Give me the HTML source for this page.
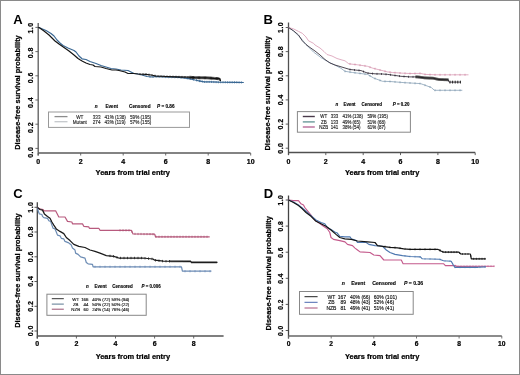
<!DOCTYPE html>
<html><head><meta charset="utf-8"><title>Figure</title>
<style>html,body{margin:0;padding:0;background:#fff;width:520px;height:375px;overflow:hidden}svg{display:block;will-change:transform;filter:blur(0.3px)}.ax{stroke:#000;stroke-width:0.22px}.lg{stroke:#111;stroke-width:0.14px}.hd{stroke:#000;stroke-width:0.12px}</style>
</head><body>
<svg width="520" height="375" viewBox="0 0 520 375" font-family='"Liberation Sans", sans-serif'>
<rect x="0.5" y="0.5" width="519" height="374" fill="#fff" stroke="#8a8a8a" stroke-width="1"/>
<line x1="38.2" y1="23" x2="38.2" y2="155.5" stroke="#5a5a5a" stroke-width="1.3"/>
<line x1="35.4" y1="148.4" x2="38.2" y2="148.4" stroke="#5a5a5a" stroke-width="0.9"/>
<text transform="translate(33,152.2) rotate(-90)" font-size="7" font-weight="bold" text-anchor="middle" fill="#000" class="ax" letter-spacing="0.45">0.0</text>
<line x1="35.4" y1="124.2" x2="38.2" y2="124.2" stroke="#5a5a5a" stroke-width="0.9"/>
<text transform="translate(33,127.4) rotate(-90)" font-size="7" font-weight="bold" text-anchor="middle" fill="#000" class="ax" letter-spacing="0.45">0.2</text>
<line x1="35.4" y1="100.0" x2="38.2" y2="100.0" stroke="#5a5a5a" stroke-width="0.9"/>
<text transform="translate(33,102.5) rotate(-90)" font-size="7" font-weight="bold" text-anchor="middle" fill="#000" class="ax" letter-spacing="0.45">0.4</text>
<line x1="35.4" y1="75.8" x2="38.2" y2="75.8" stroke="#5a5a5a" stroke-width="0.9"/>
<text transform="translate(33,77.7) rotate(-90)" font-size="7" font-weight="bold" text-anchor="middle" fill="#000" class="ax" letter-spacing="0.45">0.6</text>
<line x1="35.4" y1="51.6" x2="38.2" y2="51.6" stroke="#5a5a5a" stroke-width="0.9"/>
<text transform="translate(33,52.8) rotate(-90)" font-size="7" font-weight="bold" text-anchor="middle" fill="#000" class="ax" letter-spacing="0.45">0.8</text>
<line x1="35.4" y1="27.4" x2="38.2" y2="27.4" stroke="#5a5a5a" stroke-width="0.9"/>
<text transform="translate(33,28.0) rotate(-90)" font-size="7" font-weight="bold" text-anchor="middle" fill="#000" class="ax" letter-spacing="0.45">1.0</text>
<line x1="38.2" y1="153" x2="250.5" y2="153" stroke="#5a5a5a" stroke-width="1.5"/>
<line x1="38.2" y1="153" x2="38.2" y2="155.5" stroke="#5a5a5a" stroke-width="0.9"/>
<text x="38.2" y="163.5" font-size="7" font-weight="bold" text-anchor="middle" fill="#000"  class="ax">0</text>
<line x1="80.7" y1="153" x2="80.7" y2="155.5" stroke="#5a5a5a" stroke-width="0.9"/>
<text x="80.7" y="163.5" font-size="7" font-weight="bold" text-anchor="middle" fill="#000"  class="ax">2</text>
<line x1="123.2" y1="153" x2="123.2" y2="155.5" stroke="#5a5a5a" stroke-width="0.9"/>
<text x="123.2" y="163.5" font-size="7" font-weight="bold" text-anchor="middle" fill="#000"  class="ax">4</text>
<line x1="165.7" y1="153" x2="165.7" y2="155.5" stroke="#5a5a5a" stroke-width="0.9"/>
<text x="165.7" y="163.5" font-size="7" font-weight="bold" text-anchor="middle" fill="#000"  class="ax">6</text>
<line x1="208.2" y1="153" x2="208.2" y2="155.5" stroke="#5a5a5a" stroke-width="0.9"/>
<text x="208.2" y="163.5" font-size="7" font-weight="bold" text-anchor="middle" fill="#000"  class="ax">8</text>
<line x1="250.7" y1="153" x2="250.7" y2="155.5" stroke="#5a5a5a" stroke-width="0.9"/>
<text x="250.7" y="163.5" font-size="7" font-weight="bold" text-anchor="middle" fill="#000"  class="ax">10</text>
<text x="132.8" y="174.8" font-size="7.45" font-weight="bold" text-anchor="middle" fill="#000"  class="ax">Years from trial entry</text>
<text transform="translate(20.4,92.5) rotate(-90)" font-size="7.45" font-weight="bold" text-anchor="middle" fill="#000" class="ax">Disease-free survival probability</text>
<text x="13.3" y="24.3" font-size="13" font-weight="bold" text-anchor="start" fill="#000"  >A</text>
<line x1="288.5" y1="22.5" x2="288.5" y2="155.1" stroke="#505050" stroke-width="1.3"/>
<line x1="285.7" y1="148.2" x2="288.5" y2="148.2" stroke="#505050" stroke-width="0.9"/>
<text transform="translate(282.8,148.1) rotate(-90)" font-size="7" font-weight="bold" text-anchor="middle" fill="#000" class="ax" letter-spacing="0.45">0.0</text>
<line x1="285.7" y1="124.1" x2="288.5" y2="124.1" stroke="#505050" stroke-width="0.9"/>
<text transform="translate(282.8,124.0) rotate(-90)" font-size="7" font-weight="bold" text-anchor="middle" fill="#000" class="ax" letter-spacing="0.45">0.2</text>
<line x1="285.7" y1="99.9" x2="288.5" y2="99.9" stroke="#505050" stroke-width="0.9"/>
<text transform="translate(282.8,99.8) rotate(-90)" font-size="7" font-weight="bold" text-anchor="middle" fill="#000" class="ax" letter-spacing="0.45">0.4</text>
<line x1="285.7" y1="75.8" x2="288.5" y2="75.8" stroke="#505050" stroke-width="0.9"/>
<text transform="translate(282.8,75.7) rotate(-90)" font-size="7" font-weight="bold" text-anchor="middle" fill="#000" class="ax" letter-spacing="0.45">0.6</text>
<line x1="285.7" y1="51.6" x2="288.5" y2="51.6" stroke="#505050" stroke-width="0.9"/>
<text transform="translate(282.8,51.5) rotate(-90)" font-size="7" font-weight="bold" text-anchor="middle" fill="#000" class="ax" letter-spacing="0.45">0.8</text>
<line x1="285.7" y1="27.5" x2="288.5" y2="27.5" stroke="#505050" stroke-width="0.9"/>
<text transform="translate(282.8,27.4) rotate(-90)" font-size="7" font-weight="bold" text-anchor="middle" fill="#000" class="ax" letter-spacing="0.45">1.0</text>
<line x1="288.5" y1="152.6" x2="475.2" y2="152.6" stroke="#505050" stroke-width="1.5"/>
<line x1="288.5" y1="152.6" x2="288.5" y2="155.1" stroke="#505050" stroke-width="0.9"/>
<text x="288.5" y="163.7" font-size="7" font-weight="bold" text-anchor="middle" fill="#000"  class="ax">0</text>
<line x1="325.8" y1="152.6" x2="325.8" y2="155.1" stroke="#505050" stroke-width="0.9"/>
<text x="325.8" y="163.7" font-size="7" font-weight="bold" text-anchor="middle" fill="#000"  class="ax">2</text>
<line x1="363.2" y1="152.6" x2="363.2" y2="155.1" stroke="#505050" stroke-width="0.9"/>
<text x="363.2" y="163.7" font-size="7" font-weight="bold" text-anchor="middle" fill="#000"  class="ax">4</text>
<line x1="400.5" y1="152.6" x2="400.5" y2="155.1" stroke="#505050" stroke-width="0.9"/>
<text x="400.5" y="163.7" font-size="7" font-weight="bold" text-anchor="middle" fill="#000"  class="ax">6</text>
<line x1="437.9" y1="152.6" x2="437.9" y2="155.1" stroke="#505050" stroke-width="0.9"/>
<text x="437.9" y="163.7" font-size="7" font-weight="bold" text-anchor="middle" fill="#000"  class="ax">8</text>
<line x1="475.2" y1="152.6" x2="475.2" y2="155.1" stroke="#505050" stroke-width="0.9"/>
<text x="475.2" y="163.7" font-size="7" font-weight="bold" text-anchor="middle" fill="#000"  class="ax">10</text>
<text x="382.2" y="175" font-size="7.45" font-weight="bold" text-anchor="middle" fill="#000"  class="ax">Years from trial entry</text>
<text transform="translate(270.3,93.3) rotate(-90)" font-size="7.45" font-weight="bold" text-anchor="middle" fill="#000" class="ax">Disease-free survival probability</text>
<text x="263.6" y="24.2" font-size="13" font-weight="bold" text-anchor="start" fill="#000"  >B</text>
<line x1="37.3" y1="202.2" x2="37.3" y2="338.5" stroke="#444" stroke-width="1.3"/>
<line x1="34.5" y1="331.0" x2="37.3" y2="331.0" stroke="#444" stroke-width="0.9"/>
<text transform="translate(32.6,330.8) rotate(-90)" font-size="7" font-weight="bold" text-anchor="middle" fill="#000" class="ax" letter-spacing="0.45">0.0</text>
<line x1="34.5" y1="306.3" x2="37.3" y2="306.3" stroke="#444" stroke-width="0.9"/>
<text transform="translate(32.6,306.1) rotate(-90)" font-size="7" font-weight="bold" text-anchor="middle" fill="#000" class="ax" letter-spacing="0.45">0.2</text>
<line x1="34.5" y1="281.5" x2="37.3" y2="281.5" stroke="#444" stroke-width="0.9"/>
<text transform="translate(32.6,281.3) rotate(-90)" font-size="7" font-weight="bold" text-anchor="middle" fill="#000" class="ax" letter-spacing="0.45">0.4</text>
<line x1="34.5" y1="256.8" x2="37.3" y2="256.8" stroke="#444" stroke-width="0.9"/>
<text transform="translate(32.6,256.6) rotate(-90)" font-size="7" font-weight="bold" text-anchor="middle" fill="#000" class="ax" letter-spacing="0.45">0.6</text>
<line x1="34.5" y1="232.0" x2="37.3" y2="232.0" stroke="#444" stroke-width="0.9"/>
<text transform="translate(32.6,231.8) rotate(-90)" font-size="7" font-weight="bold" text-anchor="middle" fill="#000" class="ax" letter-spacing="0.45">0.8</text>
<line x1="34.5" y1="207.3" x2="37.3" y2="207.3" stroke="#444" stroke-width="0.9"/>
<text transform="translate(32.6,207.1) rotate(-90)" font-size="7" font-weight="bold" text-anchor="middle" fill="#000" class="ax" letter-spacing="0.45">1.0</text>
<line x1="37.3" y1="336" x2="223.6" y2="336" stroke="#555" stroke-width="1.5"/>
<line x1="37.3" y1="336" x2="37.3" y2="338.5" stroke="#555" stroke-width="0.9"/>
<text x="37.3" y="346.1" font-size="7" font-weight="bold" text-anchor="middle" fill="#000"  class="ax">0</text>
<line x1="76.4" y1="336" x2="76.4" y2="338.5" stroke="#555" stroke-width="0.9"/>
<text x="76.4" y="346.1" font-size="7" font-weight="bold" text-anchor="middle" fill="#000"  class="ax">2</text>
<line x1="115.5" y1="336" x2="115.5" y2="338.5" stroke="#555" stroke-width="0.9"/>
<text x="115.5" y="346.1" font-size="7" font-weight="bold" text-anchor="middle" fill="#000"  class="ax">4</text>
<line x1="154.6" y1="336" x2="154.6" y2="338.5" stroke="#555" stroke-width="0.9"/>
<text x="154.6" y="346.1" font-size="7" font-weight="bold" text-anchor="middle" fill="#000"  class="ax">6</text>
<line x1="193.7" y1="336" x2="193.7" y2="338.5" stroke="#555" stroke-width="0.9"/>
<text x="193.7" y="346.1" font-size="7" font-weight="bold" text-anchor="middle" fill="#000"  class="ax">8</text>
<text x="132.9" y="359.4" font-size="7.45" font-weight="bold" text-anchor="middle" fill="#000"  class="ax">Years from trial entry</text>
<text transform="translate(20.4,270.6) rotate(-90)" font-size="7.45" font-weight="bold" text-anchor="middle" fill="#000" class="ax">Disease-free survival probability</text>
<text x="13.3" y="198.1" font-size="13" font-weight="bold" text-anchor="start" fill="#000"  >C</text>
<line x1="288.5" y1="195.5" x2="288.5" y2="338.5" stroke="#444" stroke-width="1.3"/>
<line x1="285.7" y1="330.5" x2="288.5" y2="330.5" stroke="#444" stroke-width="0.9"/>
<text transform="translate(282.7,330.6) rotate(-90)" font-size="6.7" font-weight="bold" text-anchor="middle" fill="#000" class="ax" letter-spacing="0.45">0.0</text>
<line x1="285.7" y1="304.4" x2="288.5" y2="304.4" stroke="#444" stroke-width="0.9"/>
<text transform="translate(282.7,304.5) rotate(-90)" font-size="6.7" font-weight="bold" text-anchor="middle" fill="#000" class="ax" letter-spacing="0.45">0.2</text>
<line x1="285.7" y1="278.3" x2="288.5" y2="278.3" stroke="#444" stroke-width="0.9"/>
<text transform="translate(282.7,278.4) rotate(-90)" font-size="6.7" font-weight="bold" text-anchor="middle" fill="#000" class="ax" letter-spacing="0.45">0.4</text>
<line x1="285.7" y1="252.2" x2="288.5" y2="252.2" stroke="#444" stroke-width="0.9"/>
<text transform="translate(282.7,252.3) rotate(-90)" font-size="6.7" font-weight="bold" text-anchor="middle" fill="#000" class="ax" letter-spacing="0.45">0.6</text>
<line x1="285.7" y1="226.1" x2="288.5" y2="226.1" stroke="#444" stroke-width="0.9"/>
<text transform="translate(282.7,226.2) rotate(-90)" font-size="6.7" font-weight="bold" text-anchor="middle" fill="#000" class="ax" letter-spacing="0.45">0.8</text>
<line x1="285.7" y1="200.0" x2="288.5" y2="200.0" stroke="#444" stroke-width="0.9"/>
<text transform="translate(282.7,200.1) rotate(-90)" font-size="6.7" font-weight="bold" text-anchor="middle" fill="#000" class="ax" letter-spacing="0.45">1.0</text>
<line x1="288.5" y1="336" x2="501.8" y2="336" stroke="#666" stroke-width="1.5"/>
<line x1="288.5" y1="336" x2="288.5" y2="338.5" stroke="#666" stroke-width="0.9"/>
<text x="288.5" y="346.2" font-size="6.7" font-weight="bold" text-anchor="middle" fill="#000"  class="ax">0</text>
<line x1="331.2" y1="336" x2="331.2" y2="338.5" stroke="#666" stroke-width="0.9"/>
<text x="331.2" y="346.2" font-size="6.7" font-weight="bold" text-anchor="middle" fill="#000"  class="ax">2</text>
<line x1="373.8" y1="336" x2="373.8" y2="338.5" stroke="#666" stroke-width="0.9"/>
<text x="373.8" y="346.2" font-size="6.7" font-weight="bold" text-anchor="middle" fill="#000"  class="ax">4</text>
<line x1="416.5" y1="336" x2="416.5" y2="338.5" stroke="#666" stroke-width="0.9"/>
<text x="416.5" y="346.2" font-size="6.7" font-weight="bold" text-anchor="middle" fill="#000"  class="ax">6</text>
<line x1="459.1" y1="336" x2="459.1" y2="338.5" stroke="#666" stroke-width="0.9"/>
<text x="459.1" y="346.2" font-size="6.7" font-weight="bold" text-anchor="middle" fill="#000"  class="ax">8</text>
<line x1="501.8" y1="336" x2="501.8" y2="338.5" stroke="#666" stroke-width="0.9"/>
<text x="501.8" y="346.2" font-size="6.7" font-weight="bold" text-anchor="middle" fill="#000"  class="ax">10</text>
<text x="382.2" y="359.4" font-size="7.45" font-weight="bold" text-anchor="middle" fill="#000"  class="ax">Years from trial entry</text>
<text transform="translate(270.5,273.3) rotate(-90)" font-size="7.45" font-weight="bold" text-anchor="middle" fill="#000" class="ax">Disease-free survival probability</text>
<text x="263.7" y="197.8" font-size="13" font-weight="bold" text-anchor="start" fill="#000"  >D</text>
<text class="hd" x="94.8" y="107.6" font-size="4.65" font-weight="bold" font-style="italic">n</text>
<text x="105.4" y="107.6" font-size="4.65" font-weight="bold" text-anchor="start" fill="#000"  class="hd">Event</text>
<text x="129.1" y="107.6" font-size="4.65" font-weight="bold" text-anchor="start" fill="#000"  class="hd">Censored</text>
<text class="hd" x="157.1" y="107.6" font-size="4.65" font-weight="bold"><tspan font-style="italic">P</tspan> = 0.86</text>
<rect x="48.5" y="112" width="141.0" height="15.4" fill="none" stroke="#999" stroke-width="1"/>
<line x1="54.5" y1="116.6" x2="67.5" y2="116.6" stroke="#8c8c8c" stroke-width="1.3"/>
<text x="79.8" y="118.6" font-size="4.65" font-weight="normal" text-anchor="middle" fill="#444"  class="lg">WT</text>
<text x="100.5" y="118.6" font-size="4.65" font-weight="normal" text-anchor="end" fill="#444"  class="lg">333</text>
<text x="104.5" y="118.6" font-size="4.65" font-weight="normal" text-anchor="start" fill="#444"  class="lg">41% (138)</text>
<text x="130" y="118.6" font-size="4.65" font-weight="normal" text-anchor="start" fill="#444"  class="lg">59% (195)</text>
<line x1="54.5" y1="121.7" x2="67.5" y2="121.7" stroke="#c4c8cc" stroke-width="1.3"/>
<text x="79.8" y="123.7" font-size="4.65" font-weight="normal" text-anchor="middle" fill="#444"  class="lg">Mutant</text>
<text x="100.5" y="123.7" font-size="4.65" font-weight="normal" text-anchor="end" fill="#444"  class="lg">274</text>
<text x="104.5" y="123.7" font-size="4.65" font-weight="normal" text-anchor="start" fill="#444"  class="lg">43% (119)</text>
<text x="130" y="123.7" font-size="4.65" font-weight="normal" text-anchor="start" fill="#444"  class="lg">57% (155)</text>
<text class="hd" x="335.5" y="105.8" font-size="4.45" font-weight="bold" font-style="italic">n</text>
<text x="343.5" y="105.8" font-size="4.45" font-weight="bold" text-anchor="start" fill="#000"  class="hd">Event</text>
<text x="361.5" y="105.8" font-size="4.45" font-weight="bold" text-anchor="start" fill="#000"  class="hd">Censored</text>
<text class="hd" x="392.7" y="105.8" font-size="4.45" font-weight="bold"><tspan font-style="italic">P</tspan> = 0.20</text>
<rect x="297.4" y="111.6" width="113.0" height="20.6" fill="none" stroke="#888" stroke-width="1"/>
<line x1="302.8" y1="116.5" x2="314.8" y2="116.5" stroke="#4a3a4a" stroke-width="1.4"/>
<text x="323.8" y="118.3" font-size="4.45" font-weight="normal" text-anchor="middle" fill="#333"  class="lg">WT</text>
<text x="338.2" y="118.3" font-size="4.45" font-weight="normal" text-anchor="end" fill="#333"  class="lg">333</text>
<text x="342.5" y="118.3" font-size="4.45" font-weight="normal" text-anchor="start" fill="#333"  class="lg">41% (138)</text>
<text x="367.4" y="118.3" font-size="4.45" font-weight="normal" text-anchor="start" fill="#333"  class="lg">59% (195)</text>
<line x1="302.8" y1="121.9" x2="314.8" y2="121.9" stroke="#6a9a9a" stroke-width="1.4"/>
<text x="323.8" y="123.7" font-size="4.45" font-weight="normal" text-anchor="middle" fill="#333"  class="lg">ZB</text>
<text x="338.2" y="123.7" font-size="4.45" font-weight="normal" text-anchor="end" fill="#333"  class="lg">133</text>
<text x="342.5" y="123.7" font-size="4.45" font-weight="normal" text-anchor="start" fill="#333"  class="lg">49% (65)</text>
<text x="367.4" y="123.7" font-size="4.45" font-weight="normal" text-anchor="start" fill="#333"  class="lg">51% (68)</text>
<line x1="302.8" y1="127.0" x2="314.8" y2="127.0" stroke="#b86a98" stroke-width="1.4"/>
<text x="323.8" y="128.8" font-size="4.45" font-weight="normal" text-anchor="middle" fill="#333"  class="lg">NZB</text>
<text x="338.2" y="128.8" font-size="4.45" font-weight="normal" text-anchor="end" fill="#333"  class="lg">141</text>
<text x="342.5" y="128.8" font-size="4.45" font-weight="normal" text-anchor="start" fill="#333"  class="lg">38% (54)</text>
<text x="367.4" y="128.8" font-size="4.45" font-weight="normal" text-anchor="start" fill="#333"  class="lg">61% (87)</text>
<text class="hd" x="86.0" y="288.0" font-size="4.45" font-weight="bold" font-style="italic">n</text>
<text x="94.6" y="288.0" font-size="4.45" font-weight="bold" text-anchor="start" fill="#000"  class="hd">Event</text>
<text x="112.3" y="288.0" font-size="4.45" font-weight="bold" text-anchor="start" fill="#000"  class="hd">Censored</text>
<text class="hd" x="141.5" y="288.0" font-size="4.45" font-weight="bold"><tspan font-style="italic">P</tspan> = 0.006</text>
<rect x="46.9" y="294.2" width="99.3" height="21.1" fill="none" stroke="#888" stroke-width="1"/>
<line x1="51.8" y1="298.7" x2="63.8" y2="298.7" stroke="#333" stroke-width="1.0"/>
<text x="75.7" y="300.5" font-size="4.4" font-weight="normal" text-anchor="middle" fill="#111"  class="lg">WT</text>
<text x="88.5" y="300.5" font-size="4.4" font-weight="normal" text-anchor="end" fill="#111"  class="lg">166</text>
<text x="92.3" y="300.5" font-size="4.4" font-weight="normal" text-anchor="start" fill="#111"  class="lg">40% (72)</text>
<text x="111.5" y="300.5" font-size="4.4" font-weight="normal" text-anchor="start" fill="#111"  class="lg">58% (94)</text>
<line x1="51.8" y1="304.1" x2="63.8" y2="304.1" stroke="#5a7890" stroke-width="1.0"/>
<text x="75.7" y="305.9" font-size="4.4" font-weight="normal" text-anchor="middle" fill="#111"  class="lg">ZB</text>
<text x="88.5" y="305.9" font-size="4.4" font-weight="normal" text-anchor="end" fill="#111"  class="lg">44</text>
<text x="92.3" y="305.9" font-size="4.4" font-weight="normal" text-anchor="start" fill="#111"  class="lg">50% (22)</text>
<text x="111.5" y="305.9" font-size="4.4" font-weight="normal" text-anchor="start" fill="#111"  class="lg">50% (22)</text>
<line x1="51.8" y1="309.2" x2="63.8" y2="309.2" stroke="#985070" stroke-width="1.0"/>
<text x="75.7" y="311.0" font-size="4.4" font-weight="normal" text-anchor="middle" fill="#111"  class="lg">NZB</text>
<text x="88.5" y="311.0" font-size="4.4" font-weight="normal" text-anchor="end" fill="#111"  class="lg">60</text>
<text x="92.3" y="311.0" font-size="4.4" font-weight="normal" text-anchor="start" fill="#111"  class="lg">24% (14)</text>
<text x="111.5" y="311.0" font-size="4.4" font-weight="normal" text-anchor="start" fill="#111"  class="lg">76% (46)</text>
<text class="hd" x="341.8" y="285.4" font-size="5.15" font-weight="bold" font-style="italic">n</text>
<text x="351.2" y="285.4" font-size="5.15" font-weight="bold" text-anchor="start" fill="#000"  class="hd">Event</text>
<text x="372.2" y="285.4" font-size="5.15" font-weight="bold" text-anchor="start" fill="#000"  class="hd">Censored</text>
<text class="hd" x="403.9" y="285.4" font-size="5.15" font-weight="bold"><tspan font-style="italic">P</tspan> = 0.36</text>
<rect x="299.5" y="291.5" width="113.7" height="22.8" fill="none" stroke="#888" stroke-width="1"/>
<line x1="304.5" y1="296.7" x2="317.6" y2="296.7" stroke="#222" stroke-width="1.0"/>
<text x="331.4" y="298.7" font-size="5.0" font-weight="normal" text-anchor="middle" fill="#111"  class="lg">WT</text>
<text x="346" y="298.7" font-size="5.0" font-weight="normal" text-anchor="end" fill="#111"  class="lg">167</text>
<text x="350" y="298.7" font-size="5.0" font-weight="normal" text-anchor="start" fill="#111"  class="lg">40% (66)</text>
<text x="373.8" y="298.7" font-size="5.0" font-weight="normal" text-anchor="start" fill="#111"  class="lg">60% (101)</text>
<line x1="304.5" y1="302.3" x2="317.6" y2="302.3" stroke="#4a68b0" stroke-width="1.0"/>
<text x="331.4" y="304.3" font-size="5.0" font-weight="normal" text-anchor="middle" fill="#111"  class="lg">ZB</text>
<text x="346" y="304.3" font-size="5.0" font-weight="normal" text-anchor="end" fill="#111"  class="lg">89</text>
<text x="350" y="304.3" font-size="5.0" font-weight="normal" text-anchor="start" fill="#111"  class="lg">48% (43)</text>
<text x="373.8" y="304.3" font-size="5.0" font-weight="normal" text-anchor="start" fill="#111"  class="lg">52% (46)</text>
<line x1="304.5" y1="308.0" x2="317.6" y2="308.0" stroke="#a85078" stroke-width="1.0"/>
<text x="331.4" y="310.0" font-size="5.0" font-weight="normal" text-anchor="middle" fill="#111"  class="lg">NZB</text>
<text x="346" y="310.0" font-size="5.0" font-weight="normal" text-anchor="end" fill="#111"  class="lg">81</text>
<text x="350" y="310.0" font-size="5.0" font-weight="normal" text-anchor="start" fill="#111"  class="lg">49% (41)</text>
<text x="373.8" y="310.0" font-size="5.0" font-weight="normal" text-anchor="start" fill="#111"  class="lg">51% (41)</text>
<polyline points="38.2,27.5 39.0,27.5 46.0,30.5 51.0,33.5 54.0,36.0 57.0,40.0 60.0,43.0 63.0,45.5 68.0,48.0 74.0,50.5 76.0,52.0 79.0,56.0 82.0,58.8 86.0,59.5 90.0,61.5 96.0,63.5 101.0,65.5 106.0,67.0 111.0,68.5 116.0,69.0 121.0,70.0 128.0,70.5 131.0,72.0 134.0,73.5 138.0,74.0 142.0,75.0 147.0,76.5 152.0,77.0 156.0,76.5 166.0,77.0 176.0,77.2 184.0,77.8 190.0,78.8 195.0,80.0 198.8,80.8 204.2,81.9 210.4,81.9 218.0,82.2 235.0,82.3 243.8,82.5" fill="none" stroke="#3a6894" stroke-width="1.2" stroke-linejoin="round" />
<path d="M150.0 75.7v2.2M153.1 75.8v2.2M156.2 75.4v2.2M159.3 75.6v2.2M162.4 75.7v2.2M165.5 75.9v2.2M168.6 76.0v2.2M171.7 76.0v2.2M174.8 76.1v2.2M177.9 76.2v2.2M181.0 76.5v2.2M184.1 76.7v2.2M187.2 77.2v2.2M190.3 77.8v2.2M193.4 78.5v2.2M196.5 79.2v2.2M199.6 79.9v2.2M200.0 79.9v2.2M202.3 80.4v2.2M204.6 80.8v2.2M206.9 80.8v2.2M209.2 80.8v2.2M211.5 80.8v2.2M213.8 80.9v2.2M216.1 81.0v2.2M218.4 81.1v2.2M220.7 81.1v2.2M223.0 81.1v2.2M225.3 81.1v2.2M227.6 81.2v2.2M229.9 81.2v2.2M232.2 81.2v2.2M234.5 81.2v2.2M236.8 81.2v2.2M239.1 81.3v2.2M241.4 81.3v2.2" stroke="#3a6894" stroke-width="0.7" fill="none"/>
<polyline points="38.2,27.5 39.0,27.6 44.0,31.0 49.0,35.0 52.0,38.0 55.0,41.0 59.0,44.0 64.0,47.5 69.0,51.0 74.0,55.0 78.0,58.5 80.0,59.8 82.5,61.3 86.0,63.0 90.0,64.5 93.0,65.0 95.0,66.5 101.0,67.0 106.0,68.5 112.0,70.0 116.0,70.0 119.0,70.5 125.0,72.0 128.0,73.5 134.0,73.5 138.0,74.0 146.0,74.3 151.0,75.0 156.0,76.0 166.0,76.5 176.0,76.8 188.0,77.2 195.0,77.6 207.0,77.8 214.0,78.4 219.5,78.7 220.3,80.3 221.0,80.3" fill="none" stroke="#151515" stroke-width="1.2" stroke-linejoin="round" />
<path d="M140.0 73.0v2.2M143.0 73.1v2.2M146.0 73.2v2.2M149.0 73.6v2.2M152.0 74.1v2.2M155.0 74.7v2.2M158.0 75.0v2.2M161.0 75.2v2.2M164.0 75.3v2.2M167.0 75.4v2.2M170.0 75.5v2.2M173.0 75.6v2.2M176.0 75.7v2.2M179.0 75.8v2.2M182.0 75.9v2.2M185.0 76.0v2.2M188.0 76.1v2.2" stroke="#151515" stroke-width="0.7" fill="none"/>
<path d="M190.0 75.8v3.0M191.2 75.9v3.0M192.4 76.0v3.0M193.6 76.0v3.0M194.8 76.1v3.0M196.0 76.1v3.0M197.2 76.1v3.0M198.4 76.2v3.0M199.6 76.2v3.0M200.8 76.2v3.0M202.0 76.2v3.0M203.2 76.2v3.0M204.4 76.3v3.0M205.6 76.3v3.0M206.8 76.3v3.0M208.0 76.4v3.0M209.2 76.5v3.0M210.4 76.6v3.0M211.6 76.7v3.0M212.8 76.8v3.0M214.0 76.9v3.0M215.2 77.0v3.0M216.4 77.0v3.0M217.6 77.1v3.0M218.8 77.2v3.0M220.0 78.2v3.0" stroke="#111" stroke-width="0.9" fill="none"/>
<polyline points="288.5,27.5 293.5,31.0 299.8,37.0 307.3,45.8 313.5,52.0 321.0,57.6 327.3,61.4 334.8,65.1 341.0,68.3 345.0,71.3 352.5,72.5 357.5,73.1 367.5,74.4 373.8,78.1 382.5,81.3 390.0,81.5 400.0,82.3 405.0,82.7 420.5,83.6 425.0,85.2 431.3,87.5 434.4,90.3 443.7,90.3 462.3,90.3" fill="none" stroke="#90a8bc" stroke-width="0.85" stroke-linejoin="round" />
<path d="M345.0 70.3v2.0M350.0 71.1v2.0M355.0 71.8v2.0M360.0 72.4v2.0M365.0 73.1v2.0M370.0 74.9v2.0M375.0 77.5v2.0M380.0 79.4v2.0M385.0 80.4v2.0M390.0 80.5v2.0M395.0 80.9v2.0M400.0 81.3v2.0M405.0 81.7v2.0M410.0 82.0v2.0M415.0 82.3v2.0M420.0 82.6v2.0M425.0 84.2v2.0M430.0 86.0v2.0M435.0 89.3v2.0M440.0 89.3v2.0M445.0 89.3v2.0M450.0 89.3v2.0M455.0 89.3v2.0M460.0 89.3v2.0" stroke="#6b88a0" stroke-width="0.6" fill="none"/>
<polyline points="288.5,27.5 293.5,28.9 298.5,31.4 302.3,33.3 306.0,37.0 308.5,40.8 313.5,43.3 315.0,45.0 320.0,48.0 324.0,51.5 327.0,54.5 332.0,56.0 337.0,58.5 342.0,60.0 345.0,60.8 348.8,63.8 357.5,64.8 367.5,66.3 372.5,68.1 380.0,70.0 387.5,71.9 392.5,72.5 401.0,73.1 410.0,73.5 420.5,73.4 425.0,74.4 436.0,74.8 451.4,74.8 468.5,74.8" fill="none" stroke="#dca0b8" stroke-width="0.85" stroke-linejoin="round" />
<path d="M350.0 62.9v2.0M355.0 63.5v2.0M360.0 64.2v2.0M365.0 64.9v2.0M370.0 66.2v2.0M375.0 67.7v2.0M380.0 69.0v2.0M385.0 70.3v2.0M390.0 71.2v2.0M395.0 71.7v2.0M400.0 72.0v2.0M405.0 72.3v2.0M410.0 72.5v2.0M415.0 72.5v2.0M420.0 72.4v2.0M425.0 73.4v2.0M430.0 73.6v2.0M435.0 73.8v2.0M440.0 73.8v2.0M445.0 73.8v2.0M450.0 73.8v2.0M455.0 73.8v2.0M460.0 73.8v2.0M465.0 73.8v2.0" stroke="#c87898" stroke-width="0.6" fill="none"/>
<polyline points="288.5,27.5 293.5,30.8 298.5,35.0 302.3,40.8 306.0,44.5 310.0,47.5 315.0,51.0 320.0,55.0 325.0,59.5 330.0,63.0 335.0,65.0 340.0,66.5 345.0,68.0 350.0,69.5 355.0,70.0 361.0,70.6 367.5,73.1 375.0,73.8 382.5,74.0 387.5,74.4 393.8,75.3 401.0,76.3 410.0,76.9 417.4,76.9 425.0,77.9 432.9,78.2 439.0,79.5 448.3,79.8 449.0,82.1 460.7,82.1" fill="none" stroke="#3a3340" stroke-width="0.9" stroke-linejoin="round" />
<path d="M350.0 68.5v2.0M354.5 69.0v2.0M359.0 69.4v2.0M363.5 70.6v2.0M368.0 72.1v2.0M372.5 72.6v2.0M377.0 72.9v2.0M381.5 73.0v2.0M386.0 73.3v2.0M390.5 73.8v2.0M395.0 74.5v2.0M399.5 75.1v2.0M404.0 75.5v2.0M408.5 75.8v2.0M413.0 75.9v2.0" stroke="#2a2230" stroke-width="0.7" fill="none"/>
<path d="M416.0 75.5v2.8M417.0 75.5v2.8M418.0 75.6v2.8M419.0 75.7v2.8M420.0 75.8v2.8M421.0 76.0v2.8M422.0 76.1v2.8M423.0 76.2v2.8M424.0 76.4v2.8M425.0 76.5v2.8M426.0 76.5v2.8M427.0 76.6v2.8M428.0 76.6v2.8M429.0 76.7v2.8M430.0 76.7v2.8M431.0 76.7v2.8M432.0 76.8v2.8M433.0 76.8v2.8M434.0 77.0v2.8M435.0 77.2v2.8M436.0 77.5v2.8M437.0 77.7v2.8M438.0 77.9v2.8M439.0 78.1v2.8M440.0 78.1v2.8M441.0 78.2v2.8M442.0 78.2v2.8M443.0 78.2v2.8M444.0 78.3v2.8M445.0 78.3v2.8M446.0 78.3v2.8M447.0 78.4v2.8M448.0 78.4v2.8M450.0 80.7v2.8M452.6 80.7v2.8M455.2 80.7v2.8M457.8 80.7v2.8M460.4 80.7v2.8" stroke="#111" stroke-width="0.9" fill="none"/>
<polyline points="37.5,207.5 39.4,208.9 43.1,209.5 43.8,210.8 55.6,210.8 56.9,213.3 58.8,217.0 65.0,217.0 67.5,221.4 71.9,222.0 72.5,223.9 82.5,223.9 83.8,226.3 88.8,226.9 89.4,228.3 98.8,228.3 100.0,230.3 131.3,230.3 133.0,233.9 154.7,234.2 155.5,236.8 209.7,236.8" fill="none" stroke="#b85a7e" stroke-width="1.2" stroke-linejoin="round" />
<path d="M120.0 229.2v2.2M123.0 229.2v2.2M126.0 229.2v2.2M129.0 229.2v2.2M132.0 230.7v2.2M135.0 232.8v2.2M138.0 232.9v2.2M141.0 232.9v2.2M144.0 233.0v2.2M147.0 233.0v2.2M150.0 233.0v2.2M153.0 233.1v2.2M156.0 235.7v2.2M159.0 235.7v2.2M162.0 235.7v2.2M165.0 235.7v2.2M168.0 235.7v2.2M171.0 235.7v2.2M174.0 235.7v2.2M177.0 235.7v2.2M180.0 235.7v2.2M183.0 235.7v2.2M186.0 235.7v2.2M189.0 235.7v2.2M192.0 235.7v2.2M195.0 235.7v2.2M198.0 235.7v2.2M201.0 235.7v2.2M204.0 235.7v2.2M207.0 235.7v2.2" stroke="#a8506e" stroke-width="0.7" fill="none"/>
<polyline points="37.5,207.5 38.1,210.8 39.4,213.9 41.9,214.5 42.5,216.4 43.8,217.6 47.5,218.3 48.8,220.8 50.6,221.4 51.9,225.1 53.1,228.3 55.0,228.9 56.3,232.0 57.5,235.1 60.0,235.8 61.3,238.3 63.8,238.9 65.0,241.4 68.1,242.6 69.5,243.5 71.3,245.0 72.5,248.1 75.0,250.0 75.6,253.1 78.1,254.4 80.6,256.9 85.0,258.1 86.3,262.5 88.1,263.8 92.5,264.4 93.1,266.8 181.5,266.8 182.4,271.2 211.4,271.2" fill="none" stroke="#6c8cb4" stroke-width="1.2" stroke-linejoin="round" />
<path d="M95.0 265.7v2.2M100.0 265.7v2.2M105.0 265.7v2.2M110.0 265.7v2.2M115.0 265.7v2.2M120.0 265.7v2.2M125.0 265.7v2.2M130.0 265.7v2.2M135.0 265.7v2.2M140.0 265.7v2.2M145.0 265.7v2.2M150.0 265.7v2.2M155.0 265.7v2.2M160.0 265.7v2.2M165.0 265.7v2.2M170.0 265.7v2.2M175.0 265.7v2.2M180.0 265.7v2.2M185.0 270.1v2.2M190.0 270.1v2.2M195.0 270.1v2.2M200.0 270.1v2.2M205.0 270.1v2.2M210.0 270.1v2.2" stroke="#6a88b8" stroke-width="0.7" fill="none"/>
<polyline points="37.5,207.5 40.0,209.5 42.5,210.1 44.4,213.9 47.5,216.4 50.0,218.3 51.9,222.0 53.8,225.1 56.3,228.9 60.0,231.4 63.8,233.6 66.3,237.5 70.0,240.6 73.8,244.4 78.8,246.3 85.0,247.5 90.0,250.0 95.0,251.3 100.0,253.1 106.3,255.6 113.8,256.3 118.8,258.0 142.5,258.0 153.0,259.0 154.7,260.2 163.3,261.2 190.6,261.4 191.5,262.4 217.5,262.4" fill="none" stroke="#1a1a1a" stroke-width="1.25" stroke-linejoin="round" />
<path d="M110.0 254.7v2.4M113.5 255.1v2.4M117.0 256.2v2.4M120.5 256.8v2.4M124.0 256.8v2.4M127.5 256.8v2.4M131.0 256.8v2.4M134.5 256.8v2.4M138.0 256.8v2.4M141.5 256.8v2.4M145.0 257.0v2.4M148.5 257.4v2.4M152.0 257.7v2.4M155.5 259.1v2.4M159.0 259.5v2.4M162.5 259.9v2.4M166.0 260.0v2.4M169.5 260.0v2.4M170.0 260.0v2.4M172.0 260.1v2.4M174.0 260.1v2.4M176.0 260.1v2.4M178.0 260.1v2.4M180.0 260.1v2.4M182.0 260.1v2.4M184.0 260.2v2.4M186.0 260.2v2.4M188.0 260.2v2.4M190.0 260.2v2.4M192.0 261.2v2.4M194.0 261.2v2.4M196.0 261.2v2.4M198.0 261.2v2.4M200.0 261.2v2.4M202.0 261.2v2.4M204.0 261.2v2.4M206.0 261.2v2.4M208.0 261.2v2.4M210.0 261.2v2.4M212.0 261.2v2.4M214.0 261.2v2.4M216.0 261.2v2.4" stroke="#222" stroke-width="0.8" fill="none"/>
<polyline points="288.5,200.0 293.5,200.6 298.5,200.6 301.0,203.8 303.5,205.0 304.8,207.5 307.3,210.6 311.0,215.0 314.8,220.0 318.5,222.5 323.5,226.3 327.3,228.8 329.8,232.5 331.0,237.5 333.5,239.4 339.8,240.6 345.0,241.9 347.5,244.4 352.5,245.6 355.0,248.1 357.5,250.0 360.0,251.9 370.0,252.5 373.8,255.0 380.0,255.6 383.8,260.0 401.3,260.0 403.1,263.7 443.5,263.7 445.4,265.6 455.0,265.6 456.9,266.4 494.4,266.2" fill="none" stroke="#c45a8c" stroke-width="1.15" stroke-linejoin="round" />
<path d="M455.0 264.7v1.8M458.0 265.5v1.8M461.0 265.5v1.8M464.0 265.5v1.8M467.0 265.4v1.8M470.0 265.4v1.8M473.0 265.4v1.8M476.0 265.4v1.8M479.0 265.4v1.8M482.0 265.4v1.8M485.0 265.4v1.8M488.0 265.3v1.8M491.0 265.3v1.8M494.0 265.3v1.8" stroke="#c45a8c" stroke-width="0.6" fill="none"/>
<polyline points="288.5,200.0 293.5,202.0 298.5,205.0 302.3,208.0 306.0,211.3 311.0,215.6 316.0,220.0 321.0,222.5 324.8,223.8 327.3,227.5 331.0,229.4 334.8,231.9 337.3,233.1 339.8,236.3 344.8,236.9 350.0,236.9 351.3,238.8 356.3,240.6 357.5,242.5 366.3,242.5 368.8,244.4 375.0,245.6 382.5,246.3 386.3,250.0 390.0,252.5 395.0,254.4 402.5,255.6 410.0,256.5 420.4,256.9 422.3,258.8 439.6,259.2 443.5,260.8 451.2,261.2 453.1,264.6 455.0,267.3 478.0,267.3 485.8,266.9" fill="none" stroke="#4e78b0" stroke-width="1.15" stroke-linejoin="round" />
<path d="M405.0 255.0v1.8M410.0 255.6v1.8M415.0 255.8v1.8M420.0 256.0v1.8M425.0 258.0v1.8M430.0 258.1v1.8M435.0 258.2v1.8M440.0 258.5v1.8M445.0 260.0v1.8M450.0 260.2v1.8M455.0 266.4v1.8M460.0 266.4v1.8M465.0 266.4v1.8M470.0 266.4v1.8M475.0 266.4v1.8M480.0 266.3v1.8M485.0 266.0v1.8" stroke="#4e78b0" stroke-width="0.6" fill="none"/>
<polyline points="288.5,200.0 293.5,202.5 298.5,205.6 302.3,208.8 306.0,212.5 311.0,216.3 316.0,221.3 321.0,223.8 326.0,226.3 331.0,230.0 336.0,234.4 339.8,237.5 344.8,238.8 351.3,239.4 357.5,241.0 367.5,241.9 375.0,242.5 377.5,245.6 382.5,246.3 390.0,247.3 397.5,247.8 403.8,248.8 410.0,249.3 437.7,249.3 441.5,251.2 443.5,252.1 458.8,252.1 460.8,254.0 470.4,254.0 471.3,258.8 485.8,258.8" fill="none" stroke="#151515" stroke-width="1.2" stroke-linejoin="round" />
<path d="M385.0 245.6v2.0M390.0 246.3v2.0M395.0 246.6v2.0M400.0 247.2v2.0M405.0 247.9v2.0M410.0 248.3v2.0M415.0 248.3v2.0M420.0 248.3v2.0M425.0 248.3v2.0M430.0 248.3v2.0M435.0 248.3v2.0M440.0 249.4v2.0M440.0 249.4v2.0M442.8 250.8v2.0M445.6 251.1v2.0M448.4 251.1v2.0M451.2 251.1v2.0M454.0 251.1v2.0M456.8 251.1v2.0M459.6 251.9v2.0M462.4 253.0v2.0M465.2 253.0v2.0M468.0 253.0v2.0M470.8 255.1v2.0M473.6 257.8v2.0M476.4 257.8v2.0M479.2 257.8v2.0M482.0 257.8v2.0M484.8 257.8v2.0" stroke="#151515" stroke-width="0.7" fill="none"/>
</svg>
</body></html>
